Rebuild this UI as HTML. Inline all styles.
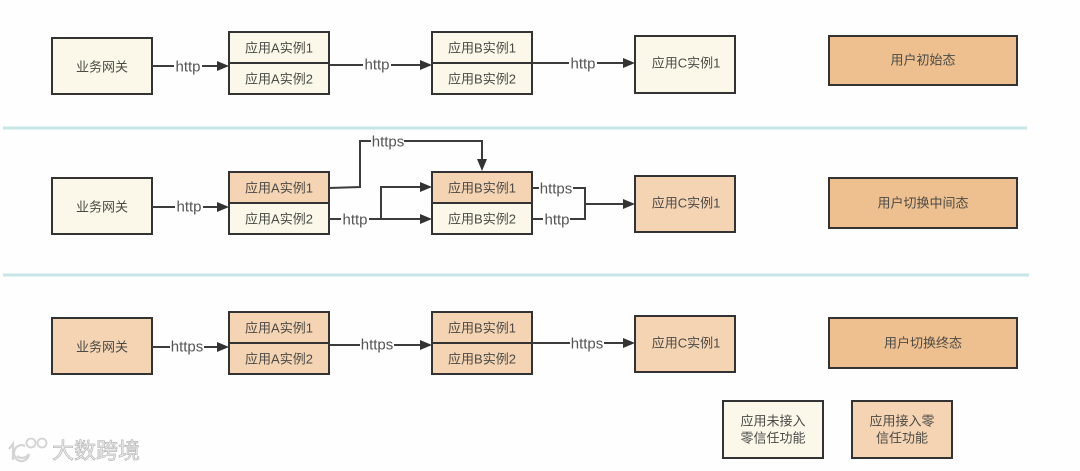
<!DOCTYPE html>
<html><head><meta charset="utf-8"><style>
html,body{margin:0;padding:0;background:#fefefe}
svg{display:block;filter:blur(.35px)}
text{font-family:"Liberation Sans","Noto Sans CJK SC",sans-serif;font-size:13px;fill:#4a4a46;text-anchor:middle;dominant-baseline:central}
.l{font-size:15px;fill:#555}
.c{fill:#fbf8ea;stroke:#333;stroke-width:2}
.p{fill:#f4d4b3;stroke:#333;stroke-width:2}
.u{fill:#eec08f;stroke:#333;stroke-width:2}
.w{fill:none;stroke:#3c3c3c;stroke-width:2}
.a{fill:#333}
.bg{fill:#fefefe}
</style></head><body>
<svg width="1080" height="471" viewBox="0 0 1080 471" xmlns="http://www.w3.org/2000/svg">
<rect width="1080" height="471" fill="#fefefe"/>
<line x1="3" y1="128" x2="1027" y2="128" stroke="#c5e6e6" stroke-width="3"/>
<line x1="3" y1="275" x2="1029" y2="275" stroke="#c5e6e6" stroke-width="3"/>

<!-- Row 1 -->
<rect class="c" x="52" y="38" width="100" height="56"/><text x="102" y="67">业务网关</text>
<rect class="c" x="229" y="32" width="100" height="31"/><rect class="c" x="229" y="63" width="100" height="31"/>
<text x="279" y="48">应用A实例1</text><text x="279" y="79">应用A实例2</text>
<rect class="c" x="432" y="32" width="100" height="31"/><rect class="c" x="432" y="63" width="100" height="31"/>
<text x="482" y="48">应用B实例1</text><text x="482" y="79">应用B实例2</text>
<rect class="c" x="635" y="36" width="100" height="57"/><text x="686" y="63">应用C实例1</text>
<rect class="u" x="829" y="36" width="188" height="49"/><text x="923" y="60">用户初始态</text>
<path class="w" d="M152 66H218"/><polygon class="a" points="229,66 217,61 217,71"/>
<path class="w" d="M329 65H421"/><polygon class="a" points="432,65 420,60 420,70"/>
<path class="w" d="M532 63H624"/><polygon class="a" points="635,63 623,58 623,68"/>
<rect class="bg" x="174" y="58" width="28" height="18"/><text class="l" x="188" y="67">http</text>
<rect class="bg" x="363" y="56" width="28" height="18"/><text class="l" x="377" y="65">http</text>
<rect class="bg" x="569" y="55" width="28" height="18"/><text class="l" x="583" y="64">http</text>

<!-- Row 2 -->
<rect class="c" x="52" y="178" width="100" height="56"/><text x="102" y="207">业务网关</text>
<rect class="p" x="229" y="172" width="100" height="31"/><rect class="c" x="229" y="203" width="100" height="31"/>
<text x="279" y="188">应用A实例1</text><text x="279" y="219">应用A实例2</text>
<rect class="p" x="432" y="172" width="100" height="31"/><rect class="c" x="432" y="203" width="100" height="31"/>
<text x="482" y="188">应用B实例1</text><text x="482" y="219">应用B实例2</text>
<rect class="p" x="635" y="176" width="100" height="56"/><text x="686" y="203">应用C实例1</text>
<rect class="u" x="829" y="178" width="188" height="50"/><text x="923" y="203">用户切换中间态</text>
<path class="w" d="M152 207H218"/><polygon class="a" points="229,207 217,202 217,212"/>
<path class="w" d="M329 188L360 187V141H482V160"/><polygon class="a" points="482,171 477,159 487,159"/>
<path class="w" d="M329 219H421M381 219V187H421"/><polygon class="a" points="432,219 420,214 420,224"/><polygon class="a" points="432,187 420,182 420,192"/>
<path class="w" d="M532 188H585V219H532M585 204H624"/><polygon class="a" points="635,204 623,199 623,209"/>
<rect class="bg" x="175" y="198" width="28" height="18"/><text class="l" x="189" y="207">http</text>
<rect class="bg" x="371" y="133" width="33" height="18"/><text class="l" x="388" y="142">https</text>
<rect class="bg" x="341" y="211" width="28" height="18"/><text class="l" x="355" y="220">http</text>
<rect class="bg" x="539" y="180" width="34" height="18"/><text class="l" x="556" y="189">https</text>
<rect class="bg" x="543" y="211" width="27" height="18"/><text class="l" x="557" y="220">http</text>

<!-- Row 3 -->
<rect class="p" x="52" y="318" width="100" height="56"/><text x="102" y="347">业务网关</text>
<rect class="p" x="229" y="312" width="100" height="31"/><rect class="p" x="229" y="343" width="100" height="31"/>
<text x="279" y="328">应用A实例1</text><text x="279" y="359">应用A实例2</text>
<rect class="p" x="432" y="312" width="100" height="31"/><rect class="p" x="432" y="343" width="100" height="31"/>
<text x="482" y="328">应用B实例1</text><text x="482" y="359">应用B实例2</text>
<rect class="p" x="635" y="316" width="100" height="56"/><text x="686" y="343">应用C实例1</text>
<rect class="u" x="829" y="318" width="188" height="50"/><text x="923" y="343">用户切换终态</text>
<path class="w" d="M152 347H218"/><polygon class="a" points="229,347 217,342 217,352"/>
<path class="w" d="M329 345H421"/><polygon class="a" points="432,345 420,340 420,350"/>
<path class="w" d="M532 343H624"/><polygon class="a" points="635,343 623,338 623,348"/>
<rect class="bg" x="170" y="338" width="34" height="18"/><text class="l" x="187" y="347">https</text>
<rect class="bg" x="360" y="336" width="34" height="18"/><text class="l" x="377" y="345">https</text>
<rect class="bg" x="570" y="335" width="34" height="18"/><text class="l" x="587" y="344">https</text>

<!-- Legend -->
<rect class="c" x="723" y="401" width="100" height="57"/>
<text x="773" y="421">应用未接入</text><text x="773" y="438">零信任功能</text>
<rect class="p" x="852" y="401" width="100" height="57"/>
<text x="902" y="421">应用接入零</text><text x="902" y="438">信任功能</text>

<!-- Watermark -->
<g>
<circle cx="31" cy="443" r="4.500" fill="none" stroke="#d4d4d4" stroke-width="1.800"/>
<circle cx="42" cy="443" r="4.500" fill="none" stroke="#d4d4d4" stroke-width="1.800"/>
<path d="M9 449L13 444V460M29 454A7.500 8 0 1 1 25 446M29 454A8 8 0 0 1 17 456" fill="none" stroke="#d4d4d4" stroke-width="2.200"/>
<text x="96" y="451" style="font-size:22px;fill:#f0f0f0;stroke:#b8b8b8;stroke-width:.7px">大数跨境</text>
</g>
</svg>
</body></html>
